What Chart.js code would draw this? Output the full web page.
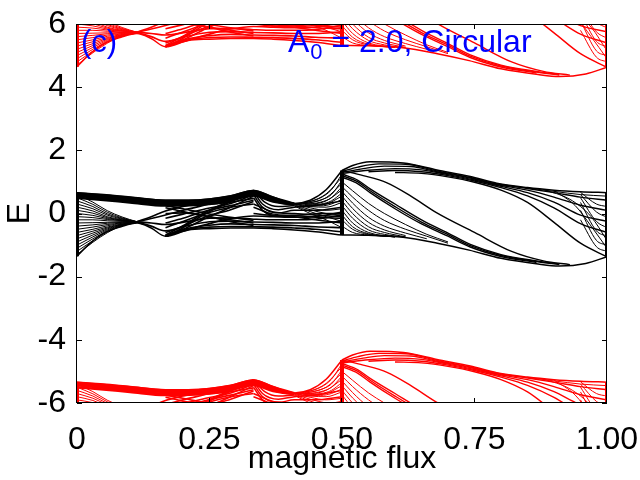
<!DOCTYPE html>
<html lang="en">
<head>
    <meta charset="UTF-8">
    <title>Spectre de Floquet - flux magnétique</title>
    <script src="https://cdn.jsdelivr.net/npm/chart.js"></script>
    <style>
        html, body { margin: 0; padding: 0; background: #fff; }
    </style>
</head>
<body>
    <canvas id="spectre" width="640" height="480"></canvas>

    <script>
        // Bande centrale (E en fonction du flux): [flux, E]
        const bandEdges = [
            [[0,-1.35],[0.025,-0.94],[0.05,-0.63],[0.083,-0.42],[0.113,-0.3],[0.14,-0.46],[0.167,-0.72],[0.21,-0.52],[0.25,-0.48],[0.29,-0.46],[0.333,-0.46],[0.37,-0.48],[0.41,-0.52],[0.45,-0.58],[0.5,-0.68]],
            [[0,0.66],[0.05,0.6],[0.1,0.52],[0.167,0.42],[0.21,0.42],[0.25,0.46],[0.29,0.56],[0.333,0.73],[0.37,0.52],[0.41,0.32],[0.44,0.42],[0.47,0.75],[0.5,1.36]],
            [[0.5,1.36],[0.52,1.52],[0.553,1.64],[0.616,1.6],[0.679,1.38],[0.742,1.17],[0.792,0.96],[0.85,0.82],[0.9,0.74],[0.95,0.69],[1,0.66]],
            [[0.5,-0.68],[0.55,-0.69],[0.615,-0.75],[0.68,-0.94],[0.74,-1.16],[0.8,-1.42],[0.87,-1.6],[0.91,-1.66],[0.96,-1.58],[1,-1.37]]
        ];
        const topStripe = [
            [[0,0.64],[0.05,0.57],[0.1,0.5],[0.167,0.4],[0.21,0.4],[0.25,0.44],[0.29,0.54],[0.333,0.71],[0.37,0.5],[0.41,0.31]],
            [[0,0.6],[0.05,0.53],[0.1,0.45],[0.167,0.35],[0.21,0.35],[0.25,0.39],[0.29,0.49],[0.333,0.67],[0.37,0.46],[0.41,0.3]],
            [[0,0.56],[0.05,0.48],[0.1,0.4],[0.167,0.3],[0.21,0.3],[0.25,0.34],[0.29,0.45],[0.333,0.62],[0.37,0.42],[0.41,0.29]],
            [[0,0.5],[0.05,0.43],[0.1,0.35],[0.167,0.25],[0.21,0.26],[0.25,0.3],[0.29,0.41],[0.333,0.57],[0.37,0.38],[0.41,0.28]]
        ];
        const leftFan = [
            [[0,0.6],[0.03,0.36],[0.057,0.09],[0.085,-0.11],[0.113,-0.26]],
            [[0,0.5],[0.03,0.29],[0.057,0.04],[0.085,-0.14],[0.113,-0.26]],
            [[0,0.4],[0.03,0.22],[0.057,-0.01],[0.085,-0.16],[0.113,-0.26]],
            [[0,0.3],[0.03,0.15],[0.057,-0.05],[0.085,-0.18],[0.113,-0.26]],
            [[0,0.2],[0.03,0.08],[0.057,-0.1],[0.085,-0.2],[0.113,-0.26]],
            [[0,0.1],[0.03,0.01],[0.057,-0.13],[0.085,-0.21],[0.113,-0.26]],
            [[0,0],[0.03,-0.06],[0.057,-0.16],[0.085,-0.22],[0.113,-0.26]],
            [[0,-0.1],[0.03,-0.13],[0.057,-0.19],[0.085,-0.23],[0.113,-0.26]],
            [[0,-0.2],[0.03,-0.2],[0.057,-0.23],[0.085,-0.25],[0.113,-0.26]],
            [[0,-0.3],[0.03,-0.29],[0.057,-0.28],[0.085,-0.27],[0.113,-0.26]],
            [[0,-0.4],[0.03,-0.36],[0.057,-0.31],[0.085,-0.28],[0.113,-0.26]],
            [[0,-0.5],[0.03,-0.43],[0.057,-0.35],[0.085,-0.3],[0.113,-0.26]],
            [[0,-0.6],[0.03,-0.5],[0.057,-0.39],[0.085,-0.31],[0.113,-0.26]],
            [[0,-0.7],[0.03,-0.56],[0.057,-0.43],[0.085,-0.33],[0.113,-0.27]],
            [[0,-0.8],[0.03,-0.62],[0.057,-0.46],[0.085,-0.34],[0.113,-0.27]],
            [[0,-0.9],[0.03,-0.68],[0.057,-0.49],[0.085,-0.35],[0.113,-0.27]],
            [[0,-1],[0.03,-0.74],[0.057,-0.52],[0.085,-0.36],[0.113,-0.28]],
            [[0,-1.1],[0.03,-0.8],[0.057,-0.55],[0.085,-0.37],[0.113,-0.28]],
            [[0,-1.2],[0.03,-0.86],[0.057,-0.58],[0.085,-0.38],[0.113,-0.29]],
            [[0,-1.3],[0.03,-0.91],[0.057,-0.61],[0.085,-0.39],[0.113,-0.29]]
        ];
        const sixthLines = [
            [[0.113,-0.26],[0.14,-0.1],[0.167,0.08],[0.2,0.22],[0.25,0.4],[0.29,0.53],[0.333,0.73]],
            [[0.113,-0.26],[0.14,-0.16],[0.167,-0.05],[0.2,0.1],[0.25,0.3],[0.29,0.48],[0.333,0.72]],
            [[0.113,-0.26],[0.14,-0.3],[0.167,-0.35],[0.21,-0.25],[0.25,-0.15],[0.29,-0.14],[0.333,-0.18],[0.37,-0.2],[0.41,-0.2],[0.45,-0.18],[0.5,-0.05]],
            [[0.113,-0.27],[0.14,-0.4],[0.167,-0.55],[0.21,-0.38],[0.25,-0.26],[0.29,-0.24],[0.333,-0.27],[0.37,-0.28],[0.41,-0.3],[0.45,-0.3],[0.5,-0.25]],
            [[0.167,-0.72],[0.2,-0.45],[0.243,0],[0.29,0.38],[0.333,0.73]],
            [[0.167,-0.68],[0.2,-0.39],[0.243,0.05],[0.29,0.41],[0.333,0.72]],
            [[0.167,-0.7],[0.2,-0.5],[0.243,-0.15],[0.29,0.2],[0.333,0.55]],
            [[0.167,-0.6],[0.2,-0.4],[0.243,-0.1],[0.29,0.12],[0.333,0.38]],
            [[0.167,-0.45],[0.2,-0.25],[0.243,0],[0.29,0.2],[0.333,0.3]],
            [[0.167,-0.3],[0.2,-0.15],[0.243,0.08],[0.29,0.25],[0.333,0.42]],
            [[0.167,-0.15],[0.2,-0.02],[0.243,0.15],[0.29,0.32],[0.333,0.6]],
            [[0.167,-0.72],[0.2,-0.56],[0.25,-0.32],[0.29,-0.16],[0.333,-0.08],[0.37,-0.1],[0.41,-0.12],[0.45,-0.1],[0.5,0.05]],
            [[0.167,-0.72],[0.21,-0.47],[0.25,-0.37],[0.29,-0.33],[0.333,-0.35],[0.37,-0.36],[0.41,-0.38],[0.45,-0.42],[0.5,-0.45]],
            [[0.167,-0.72],[0.21,-0.5],[0.25,-0.43],[0.29,-0.41],[0.333,-0.42],[0.37,-0.43],[0.41,-0.46],[0.45,-0.5],[0.5,-0.58]],
            [[0.167,0.25],[0.2,0.15],[0.243,0],[0.29,-0.12],[0.333,-0.22]],
            [[0.167,0.18],[0.2,0.06],[0.243,-0.08],[0.29,-0.2],[0.333,-0.3]],
            [[0.167,0],[0.2,0.02],[0.243,-0.08],[0.29,-0.26],[0.333,-0.38]],
            [[0.167,0.32],[0.2,0.3],[0.243,0.3],[0.29,0.36],[0.333,0.48]]
        ];
        const thirdFan = [
            [[0.333,0.73],[0.36,0.45],[0.39,0.32],[0.41,0.28]],
            [[0.333,0.73],[0.355,0.35],[0.38,0.22],[0.41,0.25]],
            [[0.333,0.7],[0.35,0.3],[0.38,0.12],[0.41,0.2],[0.45,0.25],[0.5,0.4]],
            [[0.333,0.6],[0.35,0.2],[0.38,0.02],[0.41,0.1],[0.45,0.1],[0.5,0.2]],
            [[0.333,0.5],[0.35,0.1],[0.38,-0.08],[0.42,-0.05],[0.46,0],[0.5,0]],
            [[0.333,0.3],[0.37,0.05],[0.41,0],[0.45,-0.05],[0.5,-0.1]],
            [[0.333,0.2],[0.37,-0.02],[0.41,-0.06],[0.45,-0.12],[0.5,-0.15]],
            [[0.333,0],[0.37,-0.06],[0.41,-0.1],[0.45,-0.2],[0.5,-0.3]]
        ];
        const halfFan = [
            [[0.41,0.3],[0.44,0.38],[0.47,0.62],[0.5,1.15]],
            [[0.41,0.3],[0.44,0.34],[0.47,0.5],[0.5,0.95]],
            [[0.41,0.3],[0.44,0.3],[0.47,0.4],[0.5,0.75]],
            [[0.41,0.3],[0.44,0.26],[0.47,0.3],[0.5,0.55]],
            [[0.41,0.3],[0.44,0.22],[0.47,0.2],[0.5,0.35]],
            [[0.41,0.3],[0.44,0.18],[0.47,0.1],[0.5,0.15]],
            [[0.41,0.28],[0.44,0.12],[0.47,0],[0.5,-0.05]],
            [[0.41,0.26],[0.44,0.06],[0.47,-0.1],[0.5,-0.25]],
            [[0.41,0.24],[0.44,0],[0.47,-0.2],[0.5,-0.45]],
            [[0.43,0.33],[0.46,0.5],[0.48,0.75],[0.5,1.25]],
            [[0.43,0.31],[0.46,0.43],[0.48,0.6],[0.5,1.05]],
            [[0.43,0.29],[0.46,0.36],[0.48,0.5],[0.5,0.85]],
            [[0.43,0.27],[0.46,0.3],[0.48,0.4],[0.5,0.65]],
            [[0.43,0.25],[0.46,0.24],[0.48,0.3],[0.5,0.45]]
        ];
        // faisceau diagonal et ligne fine dans la lentille de droite
        const rightBundle = [
            [[0.5,1.25],[0.53,1.05],[0.553,0.78],[0.6,0.3],[0.65,-0.2],[0.7,-0.62],[0.742,-0.98],[0.8,-1.3],[0.867,-1.5],[0.91,-1.6]],
            [[0.5,1.2],[0.53,1],[0.553,0.72],[0.6,0.22],[0.65,-0.27],[0.7,-0.67],[0.742,-1.02],[0.8,-1.33],[0.867,-1.52],[0.91,-1.62]],
            [[0.5,1.15],[0.53,0.94],[0.553,0.66],[0.6,0.15],[0.65,-0.33],[0.7,-0.72],[0.742,-1.06],[0.8,-1.36],[0.867,-1.55]],
            [[0.5,1.36],[0.54,1.2],[0.585,0.97],[0.63,0.55],[0.679,0.02],[0.75,-0.6],[0.82,-1.2],[0.88,-1.5],[0.93,-1.62]]
        ];
        const rightDecay = [
            [[0.5,1],[0.52,0.72],[0.55,0.32],[0.58,0],[0.62,-0.35],[0.66,-0.66],[0.7,-0.9]],
            [[0.5,0.85],[0.52,0.52],[0.55,0.1],[0.58,-0.22],[0.62,-0.5],[0.66,-0.72],[0.7,-0.94]],
            [[0.5,0.7],[0.52,0.33],[0.55,-0.12],[0.58,-0.4],[0.62,-0.62],[0.66,-0.8]],
            [[0.5,0.55],[0.52,0.16],[0.55,-0.28],[0.58,-0.52],[0.62,-0.7]],
            [[0.5,0.4],[0.52,0],[0.55,-0.42],[0.58,-0.6],[0.62,-0.74]],
            [[0.5,0.25],[0.52,-0.15],[0.55,-0.52],[0.58,-0.66],[0.62,-0.75]],
            [[0.5,0.1],[0.52,-0.3],[0.55,-0.6],[0.6,-0.73]],
            [[0.5,-0.05],[0.52,-0.42],[0.55,-0.64],[0.6,-0.74]],
            [[0.5,-0.2],[0.52,-0.5],[0.55,-0.66],[0.6,-0.74]],
            [[0.5,-0.4],[0.52,-0.6],[0.55,-0.68],[0.6,-0.74]]
        ];
        const rightTop = [
            [[0.5,1.33],[0.53,1.47],[0.57,1.57],[0.62,1.56],[0.679,1.35],[0.742,1.14],[0.792,0.94],[0.85,0.79],[0.9,0.66],[0.95,0.52],[1,0.42]],
            [[0.5,1.3],[0.54,1.42],[0.58,1.5],[0.63,1.49],[0.679,1.32],[0.742,1.12],[0.792,0.92],[0.85,0.74],[0.9,0.52],[0.95,0.26],[1,0.1]],
            [[0.5,1.27],[0.55,1.37],[0.6,1.42],[0.65,1.38],[0.7,1.23],[0.75,1.06],[0.8,0.86],[0.85,0.66],[0.9,0.36],[0.95,-0.05],[1,-0.25]],
            [[0.55,1.32],[0.6,1.36],[0.65,1.32],[0.7,1.2],[0.75,1.03],[0.8,0.82],[0.85,0.56],[0.9,0.18],[0.95,-0.32],[1,-0.6]],
            [[0.6,1.3],[0.65,1.27],[0.7,1.16],[0.75,0.99],[0.8,0.74],[0.85,0.35],[0.9,-0.28],[0.95,-0.94],[1,-1.37]]
        ];
        const rightFan = [
            [[0.85,0.81],[0.9,0.7],[0.95,0.6],[1,0.55]],
            [[0.88,0.76],[0.93,0.45],[0.97,-0.1],[1,-0.85]],
            [[0.9,0.73],[0.94,0.25],[0.97,-0.4],[1,-1.1]],
            [[0.95,0.67],[0.98,0.3],[1,0.22]],
            [[0.95,0.6],[0.98,0.05],[1,-0.12]],
            [[0.95,0.5],[0.98,-0.25],[1,-0.45]],
            [[0.95,0.35],[0.98,-0.55],[1,-0.72]],
            [[0.95,0.1],[0.98,-0.85],[1,-1]],
            [[0.95,-0.2],[0.98,-1.05],[1,-1.2]]
        ];
        // colonnes denses (flux 0, 1/2, 1)
        const columns = [
            [[0,0.66],[0,-1.35]],
            [[0.5,1.36],[0.5,-0.68]],
            [[1,0.66],[1,-1.37]]
        ];

        const xTicks = [0, 0.25, 0.5, 0.75, 1];
        const yTicks = [-6, -4, -2, 0, 2, 4, 6];

        const police = 'Liberation Sans, Arial, Helvetica, sans-serif';
        // épaisseur de trait par famille de courbes
        const groups = [
            [bandEdges, 1.5], [topStripe, 2.5], [leftFan, 1], [sixthLines, 1.6], [thirdFan, 1.5],
            [halfFan, 1], [rightBundle, 1.4], [rightDecay, 1], [rightTop, 1.4], [rightFan, 1], [columns, 4]
        ];

        function makeSet(points, color, axis, width, straight) {
            return {
                data: points.map(([x, y]) => ({ x: x, y: y })),
                yAxisID: axis,
                borderColor: color,
                borderWidth: width,
                pointRadius: 0,
                showLine: true,
                fill: false,
                tension: 0,
                cubicInterpolationMode: straight ? 'default' : 'monotone'
            };
        }

        const datasets = [];
        // répliques de Floquet (rouge) : mêmes niveaux, axes décalés de ±6
        [['yHi', '#ff0000'], ['yLo', '#ff0000'], ['y', '#000000']].forEach(([axis, color]) => {
            groups.forEach(([list, width]) => {
                list.forEach(c => datasets.push(makeSet(c, color, axis, width, list === columns)));
            });
        });

        // cadre gnuplot, graduations vers l'intérieur, étiquettes bleues
        const cadre = {
            id: 'cadre',
            afterDraw(chart) {
                const { ctx, chartArea: a, scales } = chart;
                ctx.save();
                ctx.strokeStyle = '#000';
                ctx.lineWidth = 1;
                ctx.strokeRect(a.left - 0.5, a.top + 0.5, a.right - a.left, a.bottom - a.top - 1);
                ctx.beginPath();
                xTicks.forEach(v => {
                    const px = Math.round(scales.x.getPixelForValue(v)) - 0.5;
                    ctx.moveTo(px, a.bottom); ctx.lineTo(px, a.bottom - 5);
                    ctx.moveTo(px, a.top); ctx.lineTo(px, a.top + 5);
                });
                yTicks.forEach(v => {
                    const py = Math.round(scales.y.getPixelForValue(v)) + 0.5;
                    ctx.moveTo(a.left, py); ctx.lineTo(a.left + 5, py);
                    ctx.moveTo(a.right, py); ctx.lineTo(a.right - 5, py);
                });
                ctx.stroke();

                ctx.fillStyle = '#0000ff';
                ctx.textBaseline = 'alphabetic';
                ctx.textAlign = 'left';
                ctx.font = '31px ' + police;
                ctx.fillText('(c)', 81, 52);
                ctx.font = '32px ' + police;
                ctx.fillText('A', 288, 52);
                let x = 288 + ctx.measureText('A').width;
                ctx.font = '22px ' + police;
                ctx.fillText('0', x + 1, 59);
                x += ctx.measureText('0').width + 1;
                ctx.font = '32px ' + police;
                ctx.fillText(' = 2.0, Circular', x, 52);
                ctx.restore();
            }
        };

        new Chart(document.getElementById('spectre'), {
            type: 'scatter',
            data: { datasets: datasets },
            plugins: [cadre],
            options: {
                responsive: false,
                animation: false,
                devicePixelRatio: 1,
                layout: { padding: { top: 24, right: 33, left: 0, bottom: 0 } },
                plugins: { legend: { display: false }, tooltip: { enabled: false } },
                elements: { line: { capBezierPoints: false } },
                scales: {
                    x: {
                        type: 'linear', min: 0, max: 1,
                        afterFit: s => { s.height = 77; s.paddingLeft = 0; s.paddingRight = 0; },
                        afterBuildTicks: s => { s.ticks = xTicks.map(v => ({ value: v })); },
                        grid: { display: false, drawTicks: false },
                        border: { display: false },
                        ticks: {
                            color: '#000', padding: 18, maxRotation: 0, autoSkip: false,
                            font: { family: police, size: 32 },
                            callback: v => v === 0 ? '0' : v.toFixed(2)
                        },
                        title: {
                            display: true, text: 'magnetic flux', color: '#000',
                            font: { family: police, size: 32 }, padding: { top: 0, bottom: 2 }
                        }
                    },
                    y: {
                        type: 'linear', min: -6, max: 6,
                        afterFit: s => { s.width = 77; s.paddingTop = 0; s.paddingBottom = 0; },
                        afterBuildTicks: s => { s.ticks = yTicks.map(v => ({ value: v })); },
                        grid: { display: false, drawTicks: false },
                        border: { display: false },
                        ticks: { color: '#000', padding: 11, font: { family: police, size: 32 } },
                        title: {
                            display: true, text: 'E', color: '#000',
                            font: { family: police, size: 32 }, padding: { top: 1, bottom: 0 }
                        }
                    },
                    yHi: { type: 'linear', min: -12, max: 0, display: false },
                    yLo: { type: 'linear', min: 0, max: 12, display: false }
                }
            }
        });
    </script>
</body>
</html>
